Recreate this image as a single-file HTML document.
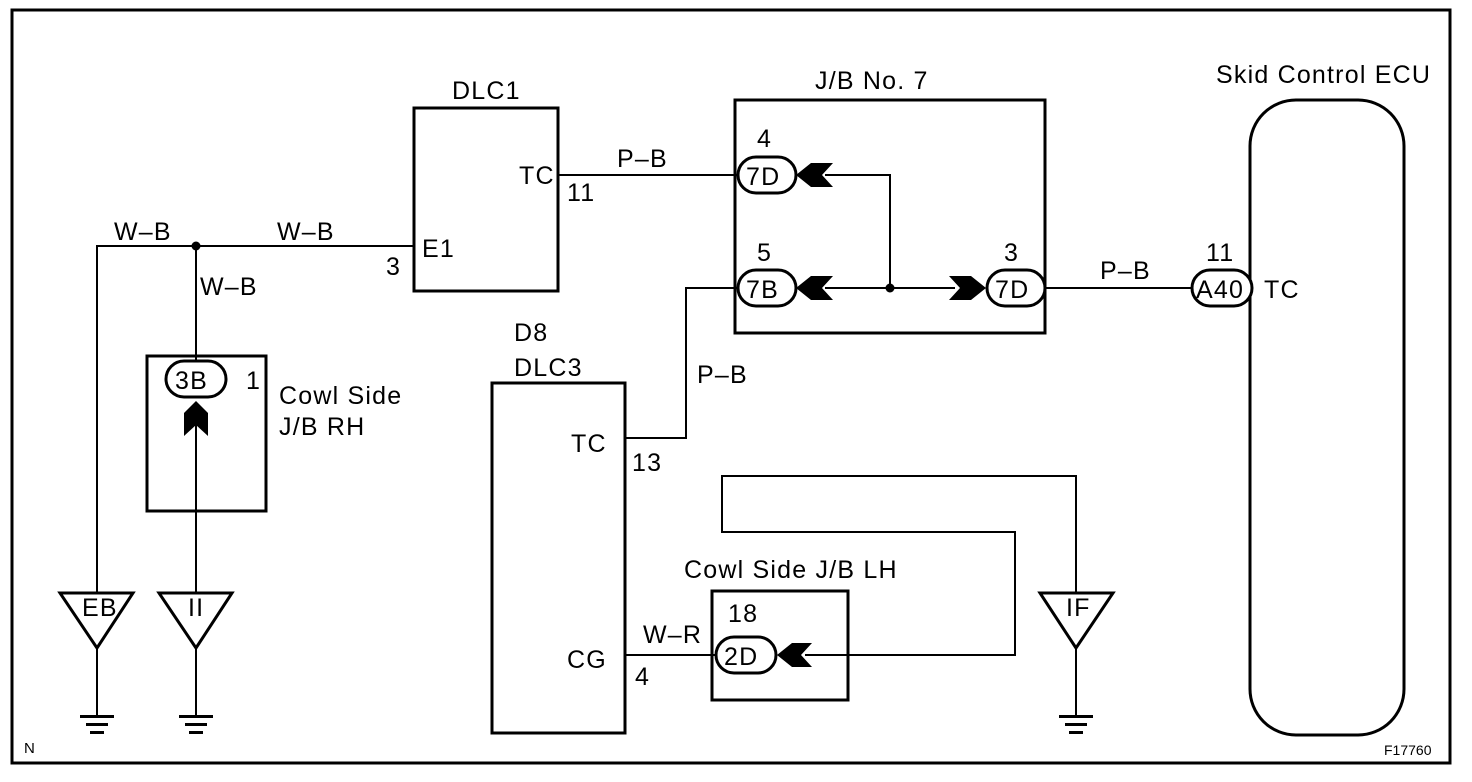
<!DOCTYPE html>
<html><head><style>body{margin:0;background:#fff}svg{display:block}text{font-family:"Liberation Sans",Arial,sans-serif;font-size:25px;letter-spacing:1.2px;fill:#000}</style></head><body>
<svg width="1472" height="782" viewBox="0 0 1472 782" xmlns="http://www.w3.org/2000/svg">
<rect x="12" y="10" width="1438" height="753" fill="none" stroke="#000" stroke-width="3"/>
<g fill="none" stroke="#000" stroke-width="3">
<rect x="414" y="108" width="144" height="183"/>
<rect x="147" y="356" width="119" height="155"/>
<rect x="735" y="100" width="310" height="233"/>
<rect x="1250" y="100" width="154" height="635" rx="46"/>
<rect x="492" y="383" width="133" height="350"/>
<rect x="712" y="591" width="136" height="109"/>
<polygon points="60,593 133,593 97,648"/>
<polygon points="159,593 232,593 196,648"/>
<polygon points="1040,593 1113,593 1076,648"/>
<rect x="738" y="157" width="58" height="36" rx="18" fill="#fff"/>
<rect x="738" y="270" width="58" height="36" rx="18" fill="#fff"/>
<rect x="987" y="270" width="58" height="36" rx="18" fill="#fff"/>
<rect x="1192" y="270" width="60" height="36" rx="18" fill="#fff"/>
<rect x="166" y="361" width="60" height="36" rx="18" fill="#fff"/>
<rect x="716" y="637" width="60" height="36" rx="18" fill="#fff"/>
</g>
<g fill="none" stroke="#000" stroke-width="2">
<polyline points="97,593 97,246 414,246"/>
<line x1="196" y1="246" x2="196" y2="361"/>
<line x1="196" y1="420" x2="196" y2="593"/>
<line x1="97" y1="648" x2="97" y2="716"/>
<line x1="196" y1="648" x2="196" y2="716"/>
<line x1="1076" y1="648" x2="1076" y2="716"/>
<line x1="558" y1="175" x2="738" y2="175"/>
<polyline points="825,175 890,175 890,288"/>
<line x1="825" y1="288" x2="955" y2="288"/>
<line x1="1045" y1="288" x2="1192" y2="288"/>
<polyline points="738,288 686,288 686,438 625,438"/>
<line x1="625" y1="655" x2="716" y2="655"/>
<polyline points="805,655 1015,655 1015,532 722,532 722,476 1076,476 1076,593"/>
</g>
<g fill="#000">
<circle cx="196" cy="246" r="4.5"/><circle cx="890" cy="288" r="4.5"/>
<polygon points="796,175 811,163 833,163 822,175 833,187 811,187"/>
<polygon points="796,288 811,276 833,276 822,288 833,300 811,300"/>
<polygon points="777,655 792,643 812,643 801,655 812,667 792,667"/>
<polygon points="986,288 971,276 949,276 960,288 949,300 971,300"/>
<polygon points="196,401 184,413 184,436 196,425 208,436 208,413"/>
<rect x="80" y="715" width="34" height="3"/><rect x="86" y="723" width="22" height="3"/><rect x="90" y="731" width="14" height="3"/>
<rect x="179" y="715" width="34" height="3"/><rect x="185" y="723" width="22" height="3"/><rect x="189" y="731" width="14" height="3"/>
<rect x="1059" y="715" width="34" height="3"/><rect x="1065" y="723" width="22" height="3"/><rect x="1069" y="731" width="14" height="3"/>
</g>
<text x="452" y="99">DLC1</text>
<text x="519" y="184">TC</text><text x="567" y="201">11</text>
<text x="422" y="257">E1</text><text x="386" y="275">3</text>
<text x="114" y="240">W–B</text><text x="277" y="240">W–B</text><text x="200" y="295">W–B</text>
<text x="175" y="389">3B</text><text x="246" y="389">1</text>
<text x="279" y="404">Cowl Side</text><text x="279" y="435">J/B RH</text>
<text x="82" y="616">EB</text><text x="188" y="616">II</text><text x="1066" y="616">IF</text>
<text x="617" y="167">P–B</text>
<text x="815" y="89">J/B No. 7</text>
<text x="757" y="147">4</text><text x="746" y="185">7D</text>
<text x="757" y="261">5</text><text x="746" y="298">7B</text>
<text x="1004" y="261">3</text><text x="995" y="298">7D</text>
<text x="1100" y="279">P–B</text>
<text x="1206" y="261">11</text><text x="1196" y="298">A40</text><text x="1264" y="298">TC</text>
<text x="1216" y="83">Skid Control ECU</text>
<text x="514" y="341">D8</text><text x="514" y="376">DLC3</text>
<text x="697" y="383">P–B</text>
<text x="571" y="452">TC</text><text x="632" y="471">13</text>
<text x="567" y="668">CG</text><text x="635" y="685">4</text>
<text x="643" y="643">W–R</text>
<text x="684" y="578">Cowl Side J/B LH</text>
<text x="728" y="622">18</text><text x="724" y="665">2D</text>
<text x="24" y="753" style="font-size:15px;letter-spacing:0">N</text>
<text x="1384" y="755" style="font-size:14px;letter-spacing:0">F17760</text>
</svg>
</body></html>
